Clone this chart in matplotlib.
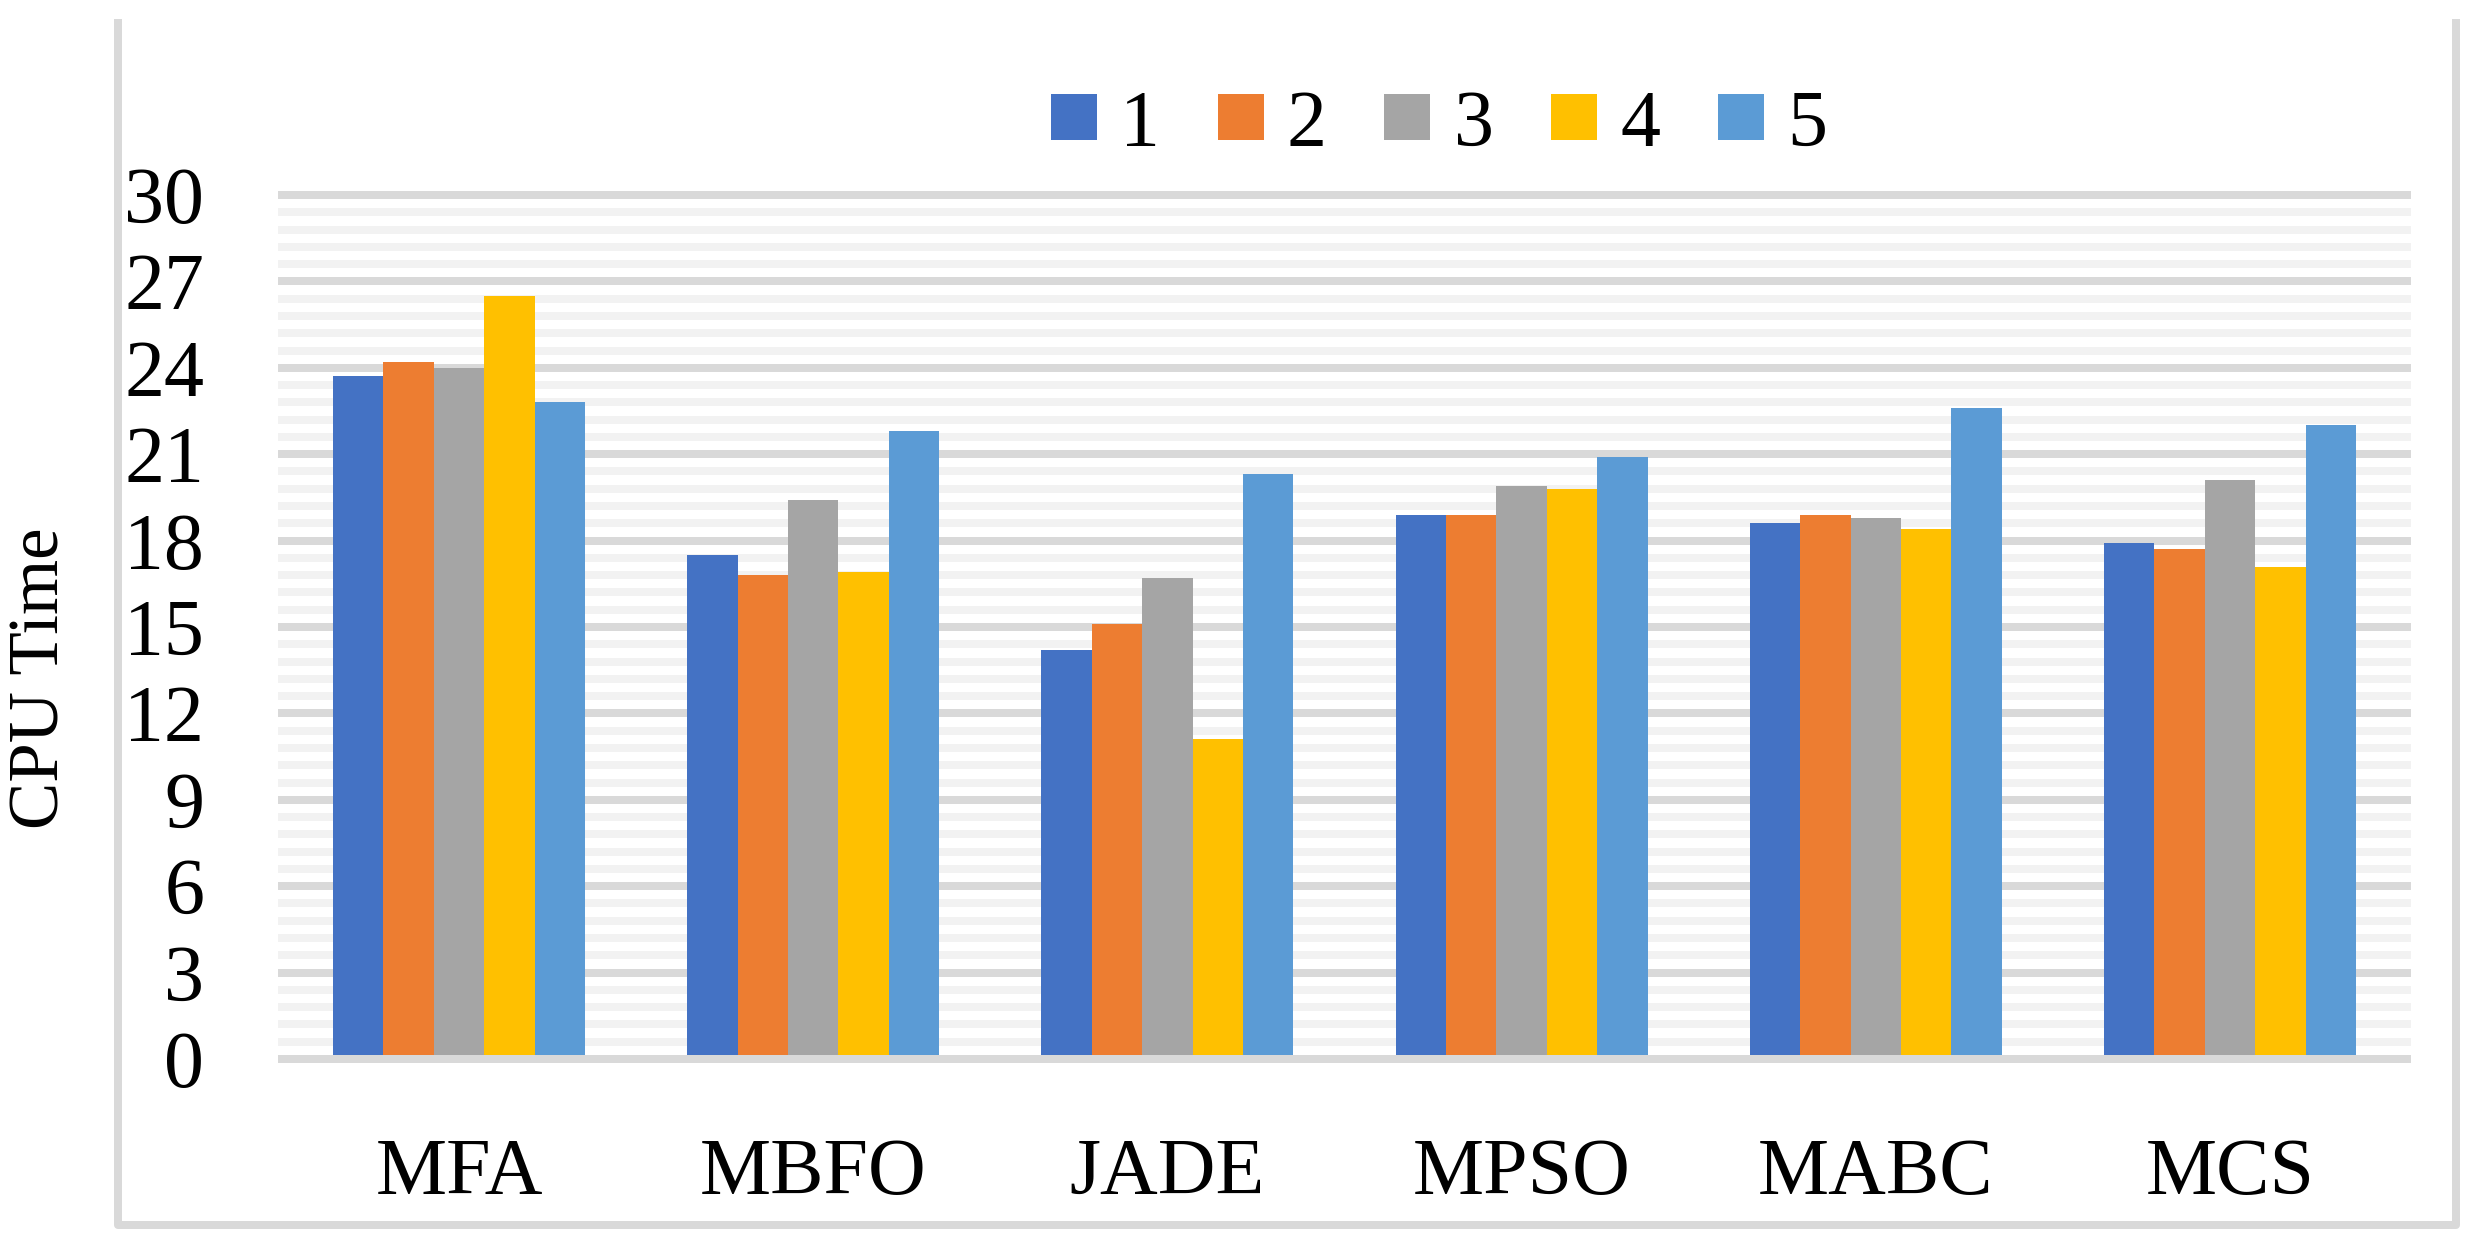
import matplotlib
matplotlib.use('Agg')
import matplotlib.pyplot as plt
from matplotlib.lines import Line2D
import numpy as np

categories = ['MFA', 'MBFO', 'JADE', 'MPSO', 'MABC', 'MCS']
series_labels = ['1', '2', '3', '4', '5']
run_1 = [23.7, 17.5, 14.2, 18.9, 18.6, 17.9]
run_2 = [24.2, 16.8, 15.1, 18.9, 18.9, 17.7]
run_3 = [24.0, 19.4, 16.7, 19.9, 18.8, 20.1]
run_4 = [26.5, 16.9, 11.1, 19.8, 18.4, 17.1]
run_5 = [22.8, 21.8, 20.3, 20.9, 22.6, 22.0]
colors = ['#4472C4', '#ED7D31', '#A5A5A5', '#FFC000', '#5B9BD5']

plt.rcParams['font.family'] = ['Liberation Serif', 'DejaVu Serif']

W, H = 2479, 1248
fig = plt.figure(figsize=(W / 100, H / 100), dpi=100)
ax = fig.add_axes([282 / W, 1 - 1059 / H, (2407 - 282) / W, (1059 - 195) / H])

x = np.arange(len(categories))
w = 0.1423
for i, vals in enumerate([run_1, run_2, run_3, run_4, run_5]):
    ax.bar(x + (i - 2) * w, vals, w, color=colors[i], label=series_labels[i], zorder=2)

ax.set_xlim(-0.5, len(categories) - 0.5)
ax.set_ylim(0, 30)
ax.set_yticks(np.arange(0, 31, 3))
ax.set_yticks(np.arange(0, 30.01, 0.6), minor=True)
ax.set_axisbelow(True)
ax.grid(which='major', axis='y', color='#D9D9D9', linewidth=5.76, clip_on=False)
ax.grid(which='minor', axis='y', color='#F2F2F2', linewidth=5.76, clip_on=False)
ax.set_xticks(x, categories)

for s in ['top', 'left', 'right']:
    ax.spines[s].set_visible(False)
ax.spines['bottom'].set_color('#D9D9D9')
ax.spines['bottom'].set_linewidth(5.76)
ax.spines['bottom'].set_zorder(3)

ax.tick_params(axis='x', which='both', length=0, pad=57, labelsize=57.6)
ax.tick_params(axis='y', which='both', length=0, pad=56, labelsize=57.6)

fig.text(41 / W, 1 - 678 / H, 'CPU Time', rotation=90, ha='center', va='center', fontsize=51)

fig.legend(loc='center', bbox_to_anchor=(1439 / W, 1 - 126 / H), ncol=5, frameon=False,
           fontsize=57.6, handlelength=0.575, handleheight=0.508, handletextpad=0.29,
           columnspacing=0.72, borderpad=0, borderaxespad=0)

# outer frame (left, bottom, right; no top edge)
fx = [118 / W, 118 / W, 2456 / W, 2456 / W]
fy = [1 - 23 / H, 1 - 1225 / H, 1 - 1225 / H, 1 - 23 / H]
fig.add_artist(Line2D(fx, fy, color='#D9D9D9', linewidth=5.76, transform=fig.transFigure))

fig.savefig('out.png', dpi=100)
